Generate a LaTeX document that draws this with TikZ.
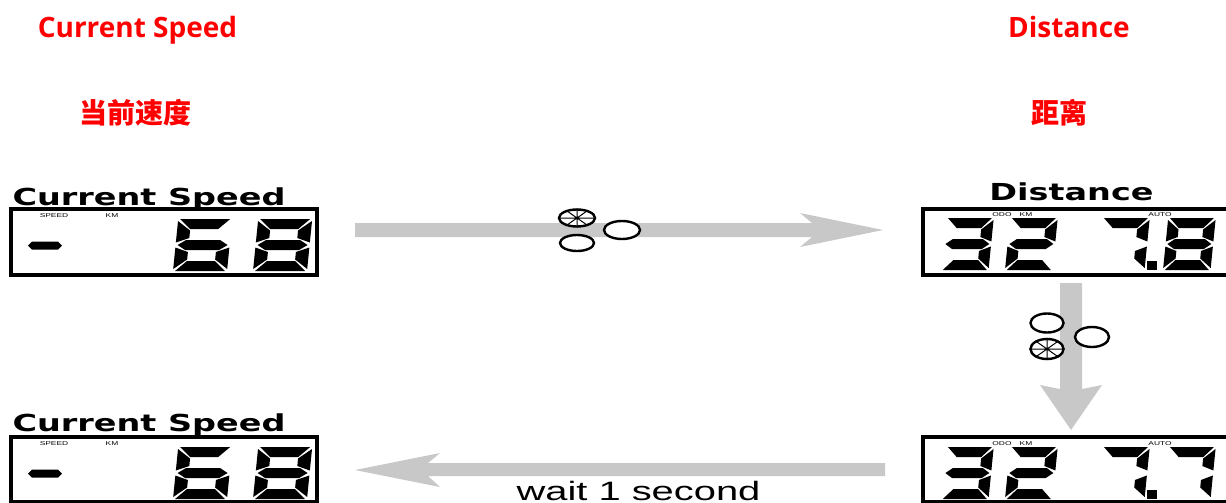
\documentclass[tikz,border=0pt]{standalone}
\usepackage{fontspec}
\setmainfont{Liberation Sans}
\newfontfamily\redfont{Open Sans}
\newfontfamily\cjk{Noto Sans CJK SC}
\newfontfamily\heavyfont{DejaVu Sans}
\usetikzlibrary{shapes.geometric, positioning}

\definecolor{arrowgray}{RGB}{200,200,200}
\definecolor{labelred}{RGB}{255,0,0}

\newcommand{\lcdsega}{\fill (2,52) -- (52,52) -- (41,42) -- (13,42) -- cycle;}
\newcommand{\lcdsegd}{\fill (2,0) -- (52,0) -- (41,10) -- (13,10) -- cycle;}
\newcommand{\lcdsegg}{\fill (2,26) -- (10,31) -- (44,31) -- (52,26) -- (44,21) -- (10,21) -- cycle;}
\newcommand{\lcdsegb}{\fill (54,50) -- (54,28.5) -- (41,33) -- (41,40.5) -- cycle;}
\newcommand{\lcdsegf}{\fill (0,50) -- (0,28.5) -- (13,33) -- (13,40.5) -- cycle;}
\newcommand{\lcdsegc}{\fill (54,2) -- (54,23.5) -- (41,19) -- (41,11.5) -- cycle;}
\newcommand{\lcdsege}{\fill (0,2) -- (0,23.5) -- (13,19) -- (13,11.5) -- cycle;}
\newcommand{\lcddigit}[4][0.5pt]{%
  \begin{scope}[shift={(#2,#3)}, x=#1, y=0.5pt, xslant=0.1]
    \foreach \sg in {#4} {\csname lcdseg\sg\endcsname}
  \end{scope}}
\newcommand{\lcddash}[1]{\fill (28,#1) -- (32,#1-4) -- (58,#1-4) -- (62,#1) -- (58,#1+4) -- (32,#1+4) -- cycle;}

\tikzset{
  lcdbox/.style={draw, line width=1.6pt, inner sep=0pt, minimum height=33pt},
  lcdlabel/.style={font=\heavyfont\bfseries\fontsize{11.7}{14}\selectfont, xscale=1.43, inner sep=0pt},
  lcdtag/.style={font=\fontsize{2.8}{3}\selectfont, xscale=1.5, inner sep=0pt},
  redtitle/.style={text=labelred, font=\redfont\bfseries\fontsize{14}{17}\selectfont, inner sep=0pt},
  redcjk/.style={text=labelred, font=\cjk\bfseries\fontsize{14}{17}\selectfont, inner sep=0pt},
  btn/.style={ellipse, draw, fill=white, line width=1.2pt, inner sep=0pt},
  blockarrow/.style={fill=arrowgray}
}

\begin{document}
\begin{tikzpicture}[x=0.5pt, y=-0.5pt]
\useasboundingbox (0,0) rectangle (1226,503);
\clip (0,0) rectangle (1226,503);

\node[redtitle, anchor=base] (t1) at (137.5,37) {Current Speed};
\node[redcjk] (t2) at (135,112.5) {当前速度};
\node[redtitle, anchor=base] (t3) at (1069,37) {Distance};
\node[redcjk] (t4) at (1059.5,112.5) {距离};

\node[lcdbox, minimum width=153pt] (spd1) at (164,242) {};
\node[lcdbox, minimum width=155.5pt] (dist1) at (1078.5,242) {};
\node[lcdbox, minimum width=153pt, minimum height=32.5pt] (spd2) at (164,469.5) {};
\node[lcdbox, minimum width=155.5pt, minimum height=32.5pt] (dist2) at (1078.5,469.5) {};

\node[lcdlabel, anchor=base west] (l1) at (12,205) {Current Speed};
\node[lcdlabel, anchor=base] (l2) at (1071.5,200) {Distance};
\node[lcdlabel, anchor=base west] (l3) at (12,431) {Current Speed};

\node[lcdtag] (g1) at (54,215.5) {SPEED};
\node[lcdtag] (g2) at (112,215.5) {KM};
\node[lcdtag] (g3) at (1002,215) {ODO};
\node[lcdtag] (g4) at (1026,215) {KM};
\node[lcdtag] (g5) at (1160,215) {AUTO};
\node[lcdtag] (g6) at (54,443.5) {SPEED};
\node[lcdtag] (g7) at (112,443.5) {KM};
\node[lcdtag] (g8) at (1002,444) {ODO};
\node[lcdtag] (g9) at (1026,444) {KM};
\node[lcdtag] (g10) at (1160,444) {AUTO};

\lcddash{245.5}
\lcddigit{173}{271}{a,c,d,e,f,g}
\lcddigit{253}{271}{a,b,c,d,e,f,g}
\lcddash{473.5}
\lcddigit{173}{499}{a,c,d,e,f,g}
\lcddigit{253}{499}{a,b,c,d,e,f,g}

\lcddigit[0.44pt]{941}{270}{a,b,c,d,g}
\lcddigit[0.44pt]{1005}{270}{a,b,d,e,g}
\lcddigit[0.44pt]{1097}{270}{a,b,c}
\fill (1147,261) rectangle (1157,270);
\lcddigit[0.44pt]{1163}{270}{a,b,c,d,e,f,g}
\lcddigit[0.44pt]{941}{499}{a,b,c,d,g}
\lcddigit[0.44pt]{1005}{499}{a,b,d,e,g}
\lcddigit[0.44pt]{1097}{499}{a,b,c}
\fill (1147,490) rectangle (1157,499);
\lcddigit[0.44pt]{1163}{499}{a,b,c}

\fill[blockarrow] (355,223) -- (812,223) -- (800,213) -- (883,230) -- (800,247) -- (812,237) -- (355,237) -- cycle;
\fill[blockarrow] (1060,283) -- (1060,389) -- (1040,385) -- (1071,430) -- (1102,385) -- (1082,389) -- (1082,283) -- cycle;
\fill[blockarrow] (885,463) -- (428,463) -- (440,453) -- (355,470) -- (440,487) -- (428,476) -- (885,476) -- cycle;

\node[btn, minimum width=18pt, minimum height=8.5pt] (b1) at (577,218) {};
\node[btn, minimum width=17pt, minimum height=8pt] (b2) at (577,243) {};
\node[btn, minimum width=18pt, minimum height=9pt] (b3) at (622,230) {};
\node[btn, minimum width=16.5pt, minimum height=9.5pt] (b4) at (1047,323) {};
\node[btn, minimum width=16.5pt, minimum height=10pt] (b5) at (1047,349) {};
\node[btn, minimum width=17pt, minimum height=10pt] (b6) at (1092,337) {};
\foreach \b in {b1,b5}
  \draw[line width=0.5pt] (\b.north) -- (\b.south) (\b.east) -- (\b.west)
    (\b.35) -- (\b.215) (\b.145) -- (\b.325);

\node[font=\fontsize{13.3}{15}\selectfont, xscale=1.5, inner sep=0pt, text depth=0pt, anchor=base] (w) at (638.5,500) {wait 1 second};
\end{tikzpicture}
\end{document}
